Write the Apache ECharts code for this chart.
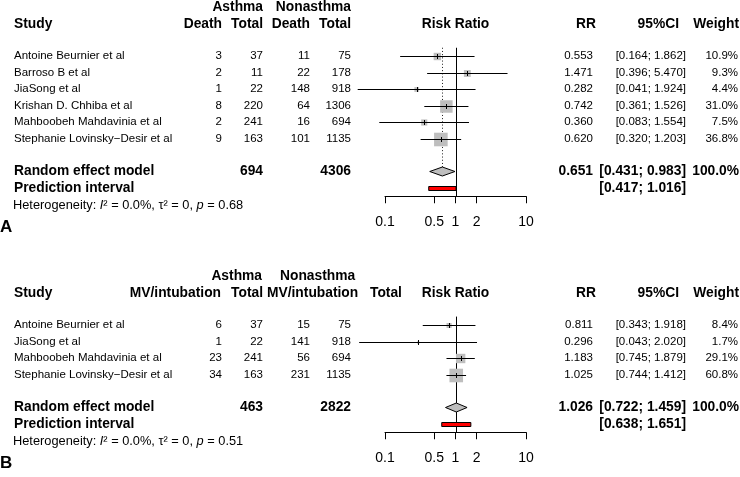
<!DOCTYPE html>
<html><head><meta charset="utf-8">
<script src="https://cdn.jsdelivr.net/npm/echarts@6/dist/echarts.min.js"></script>
<style>html,body{margin:0;padding:0;background:#fff}#c{width:740px;height:477px}</style>
</head><body><div id="c"></div>
<script>
// ---------------- DATA ----------------
// Panel A: Death
const studiesA = ['Antoine Beurnier et al', 'Barroso B et al', 'JiaSong et al', 'Krishan D. Chhiba et al', 'Mahboobeh Mahdavinia et al', 'Stephanie Lovinsky\u2212Desir et al'];
const eventsAsthmaA = [3, 2, 1, 8, 2, 9];
const totalAsthmaA = [37, 11, 22, 220, 241, 163];
const eventsNonA = [11, 22, 148, 64, 16, 101];
const totalNonA = [75, 178, 918, 1306, 694, 1135];
const rrA = [0.553, 1.471, 0.282, 0.742, 0.360, 0.620];
const lowerA = [0.164, 0.396, 0.041, 0.361, 0.083, 0.320];
const upperA = [1.862, 5.470, 1.924, 1.526, 1.554, 1.203];
const weightA = [10.9, 9.3, 4.4, 31.0, 7.5, 36.8];
const pooledA = [0.651, 0.431, 0.983];      // RR, lower, upper
const predA = [0.417, 1.016];               // prediction interval
const totalsA = [694, 4306];
const hetA = ['0.0%', '0', '0.68'];         // I2, tau2, p

// Panel B: MV/intubation
const studiesB = ['Antoine Beurnier et al', 'JiaSong et al', 'Mahboobeh Mahdavinia et al', 'Stephanie Lovinsky\u2212Desir et al'];
const eventsAsthmaB = [6, 1, 23, 34];
const totalAsthmaB = [37, 22, 241, 163];
const eventsNonB = [15, 141, 56, 231];
const totalNonB = [75, 918, 694, 1135];
const rrB = [0.811, 0.296, 1.183, 1.025];
const lowerB = [0.343, 0.043, 0.745, 0.744];
const upperB = [1.918, 2.020, 1.879, 1.412];
const weightB = [8.4, 1.7, 29.1, 60.8];
const pooledB = [1.026, 0.722, 1.459];
const predB = [0.638, 1.651];
const totalsB = [463, 2822];
const hetB = ['0.0%', '0', '0.51'];

const axisTickValues = [0.1, 0.5, 1, 2, 10];
const axisTickLabels = ['0.1', '0.5', '1', '2', '10'];

// ---------------- LAYOUT / STYLE ----------------
const FONT = '"Liberation Sans", Arial, Helvetica, sans-serif';
const FS = 11.5, FSB = 13.8, FSH = 12.8;
const COL = {study: 14, ev1: 222, n1: 263, ev2: 310, n2: 351, rr: 593, ci: 686, wt: 738};
const crisp = v => Math.round(v) + 0.5;

const panels = [
  {
    letter: 'A', studies: studiesA, ev1: eventsAsthmaA, n1: totalAsthmaA, ev2: eventsNonA, n2: totalNonA,
    rr: rrA, lo: lowerA, hi: upperA, w: weightA, pooled: pooledA, pred: predA, totals: totalsA, het: hetA,
    top: 39.5,
    groupHead: [{t: 'Asthma', x: 263, a: 'right'}, {t: 'Nonasthma', x: 351, a: 'right'}],
    colHead: [{t: 'Death', x: 222, a: 'right'}, {t: 'Total', x: 263, a: 'right'}, {t: 'Death', x: 310, a: 'right'}, {t: 'Total', x: 351, a: 'right'}]
  },
  {
    letter: 'B', studies: studiesB, ev1: eventsAsthmaB, n1: totalAsthmaB, ev2: eventsNonB, n2: totalNonB,
    rr: rrB, lo: lowerB, hi: upperB, w: weightB, pooled: pooledB, pred: predB, totals: totalsB, het: hetB,
    top: 308.5,
    groupHead: [{t: 'Asthma', x: 262, a: 'right'}, {t: 'Nonasthma', x: 280, a: 'left'}],
    colHead: [{t: 'MV/intubation', x: 221, a: 'right'}, {t: 'Total', x: 263, a: 'right'}, {t: 'MV/intubation', x: 267, a: 'left'}, {t: 'Total', x: 370, a: 'left'}]
  }
];

const ROW = 16.5;
const fmt3 = v => v.toFixed(3);
const ciText = (l, h) => '[' + fmt3(l) + '; ' + fmt3(h) + ']';

const grids = [], xAxes = [], yAxes = [], series = [];

panels.forEach((p, gi) => {
  const n = p.studies.length;
  const sumRow = n + 2, predRow = n + 3, hetRow = n + 4, axisMax = n + 3.5, letterRow = n + 5.37;
  grids.push({left: 385, width: 141, top: p.top, height: axisMax * ROW});
  xAxes.push({
    type: 'log', logBase: 10, min: 0.1, max: 10, gridIndex: gi,
    axisLine: {show: true, onZero: false, lineStyle: {color: '#000', width: 1}},
    axisTick: {show: true, length: 7, customValues: axisTickValues, lineStyle: {color: '#000', width: 1}},
    axisLabel: {show: true, customValues: axisTickValues, margin: 19, fontSize: 14, fontFamily: FONT, color: '#000',
      formatter: v => { const i = axisTickValues.findIndex(t => Math.abs(t - v) < 1e-9); return i >= 0 ? axisTickLabels[i] : ''; }},
    splitLine: {show: false}, minorTick: {show: false}
  });
  yAxes.push({type: 'value', gridIndex: gi, inverse: true, min: 0, max: axisMax, show: false});

  // ----- table rows -----
  const rows = [];
  rows.push({k: -1.93, cells: p.groupHead.map(h => ({t: h.t, x: h.x, a: h.a, b: true}))});
  rows.push({k: -0.93, cells: [{t: 'Study', x: COL.study, a: 'left', b: true}]
    .concat(p.colHead.map(h => ({t: h.t, x: h.x, a: h.a, b: true})))
    .concat([{t: 'Risk Ratio', x: 'RR1', a: 'center', b: true},
             {t: 'RR', x: 596, a: 'right', b: true}, {t: '95%CI', x: 679, a: 'right', b: true}, {t: 'Weight', x: 739, a: 'right', b: true}])});
  p.studies.forEach((s, i) => {
    rows.push({k: i + 1, cells: [
      {t: s, x: COL.study, a: 'left'}, {t: String(p.ev1[i]), x: COL.ev1, a: 'right'}, {t: String(p.n1[i]), x: COL.n1, a: 'right'},
      {t: String(p.ev2[i]), x: COL.ev2, a: 'right'}, {t: String(p.n2[i]), x: COL.n2, a: 'right'},
      {t: fmt3(p.rr[i]), x: COL.rr, a: 'right'}, {t: ciText(p.lo[i], p.hi[i]), x: COL.ci, a: 'right'},
      {t: p.w[i].toFixed(1) + '%', x: COL.wt, a: 'right'}]});
  });
  const wsum = p.w.reduce((a, b) => a + b, 0);
  rows.push({k: sumRow, cells: [
    {t: 'Random effect model', x: COL.study, a: 'left', b: true}, {t: String(p.totals[0]), x: COL.n1, a: 'right', b: true},
    {t: String(p.totals[1]), x: COL.n2, a: 'right', b: true}, {t: fmt3(p.pooled[0]), x: COL.rr, a: 'right', b: true},
    {t: ciText(p.pooled[1], p.pooled[2]), x: COL.ci, a: 'right', b: true}, {t: (Math.round(wsum / 10) * 10).toFixed(1) + '%', x: COL.wt + 1, a: 'right', b: true}]});
  rows.push({k: predRow, cells: [
    {t: 'Prediction interval', x: COL.study, a: 'left', b: true}, {t: ciText(p.pred[0], p.pred[1]), x: COL.ci, a: 'right', b: true}]});
  rows.push({k: hetRow + 0.05, cells: [{het: true, x: COL.study - 1, a: 'left'}]});
  rows.push({k: letterRow, cells: [{t: p.letter, x: 0, a: 'left', b: true, size: 17}]});

  series.push({
    type: 'custom', xAxisIndex: gi, yAxisIndex: gi, clip: false, silent: true,
    data: rows.map(r => [1, r.k]),
    renderItem: (params, api) => {
      const r = rows[params.dataIndex];
      const pt = api.coord([1, api.value(1)]);
      return {type: 'group', children: r.cells.map(c => {
        if (c.het) {
          return {type: 'text', style: {
            x: c.x, y: pt[1], align: 'left', verticalAlign: 'middle',
            text: '{a|Heterogeneity: }{i|I}{a|\u00b2 = ' + p.het[0] + ', \u03c4\u00b2 = ' + p.het[1] + ', }{i|p}{a| = ' + p.het[2] + '}',
            rich: {a: {fontSize: FSH, fontFamily: FONT, fill: '#000'}, i: {fontSize: FSH, fontFamily: FONT, fontStyle: 'italic', fill: '#000'}}
          }};
        }
        return {type: 'text', style: {
          x: c.x === 'RR1' ? pt[0] : c.x, y: pt[1], text: c.t, align: c.a, verticalAlign: 'middle',
          fontSize: c.size || (c.b ? FSB : FS), fontWeight: c.b ? 'bold' : 'normal', fontFamily: FONT, fill: '#000'
        }};
      })};
    }
  });

  // ----- reference lines: no-effect (solid) and pooled (dotted) -----
  series.push({
    type: 'custom', xAxisIndex: gi, yAxisIndex: gi, clip: false, silent: true,
    data: [[1, 0.5, axisMax, 0], [p.pooled[0], 0.5, sumRow - 0.27, 1]],
    renderItem: (params, api) => {
      const a = api.coord([api.value(0), api.value(1)]);
      const b = api.coord([api.value(0), api.value(2)]);
      const dotted = api.value(3) === 1;
      const x = crisp(a[0]);
      return {type: 'line', shape: {x1: x, y1: a[1], x2: x, y2: b[1]},
        style: {stroke: '#000', lineWidth: dotted ? 0.9 : 1, lineDash: dotted ? [1, 2.2] : null}};
    }
  });

  // ----- study estimates -----
  const wmax = Math.max.apply(null, p.w);
  series.push({
    type: 'custom', xAxisIndex: gi, yAxisIndex: gi, clip: false, silent: true,
    data: p.rr.map((v, i) => [v, i + 1, p.lo[i], p.hi[i], p.w[i]]),
    renderItem: (params, api) => {
      const c = api.coord([api.value(0), api.value(1)]);
      const l = api.coord([api.value(2), api.value(1)]);
      const h = api.coord([api.value(3), api.value(1)]);
      const s = 13.6 * Math.sqrt(api.value(4) / wmax);
      const y = crisp(c[1]), x = crisp(c[0]);
      return {type: 'group', children: [
        {type: 'rect', shape: {x: c[0] - s / 2, y: y - s / 2, width: s, height: s}, style: {fill: '#BEBEBE'}},
        {type: 'line', shape: {x1: l[0], y1: y, x2: h[0], y2: y}, style: {stroke: '#000', lineWidth: 1}},
        {type: 'line', shape: {x1: x, y1: y - 2.5, x2: x, y2: y + 2.5}, style: {stroke: '#000', lineWidth: 1}}
      ]};
    }
  });

  // ----- pooled diamond -----
  series.push({
    type: 'custom', xAxisIndex: gi, yAxisIndex: gi, clip: false, silent: true,
    data: [[p.pooled[0], sumRow, p.pooled[1], p.pooled[2]]],
    renderItem: (params, api) => {
      const c = api.coord([api.value(0), api.value(1)]);
      const l = api.coord([api.value(2), api.value(1)]);
      const h = api.coord([api.value(3), api.value(1)]);
      return {type: 'polygon', shape: {points: [[l[0], c[1]], [c[0], c[1] - 4.5], [h[0], c[1]], [c[0], c[1] + 4.5]]},
        style: {fill: '#BEBEBE', stroke: '#000', lineWidth: 1}};
    }
  });

  // ----- prediction interval -----
  series.push({
    type: 'custom', xAxisIndex: gi, yAxisIndex: gi, clip: false, silent: true,
    data: [[p.pred[0], predRow, p.pred[1]]],
    renderItem: (params, api) => {
      const l = api.coord([api.value(0), api.value(1)]);
      const h = api.coord([api.value(2), api.value(1)]);
      const y = crisp(l[1]);
      return {type: 'rect', shape: {x: l[0], y: y - 2, width: h[0] - l[0], height: 4},
        style: {fill: '#FF0000', stroke: '#000', lineWidth: 1}};
    }
  });
});

const chart = echarts.init(document.getElementById('c'), null, {renderer: 'canvas'});
chart.setOption({
  animation: false,
  backgroundColor: '#fff',
  grid: grids, xAxis: xAxes, yAxis: yAxes, series: series
});
</script>
</body></html>
